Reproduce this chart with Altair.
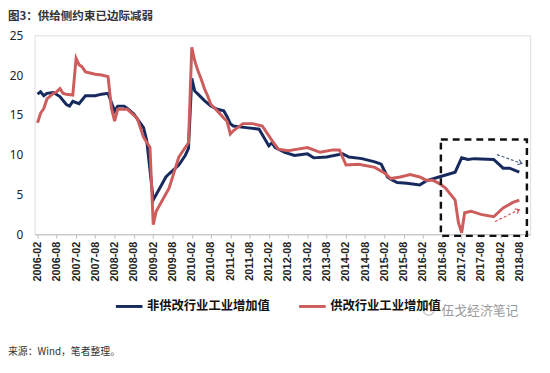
import altair as alt
import pandas as pd

TITLE = ["图3：供给侧约束已边际减弱"]
SOURCE = ["来源：Wind，笔者整理。"]
WATERMARK = ["伍戈经济笔记"]
SERIES = ["非供改行业工业增加值", "供改行业工业增加值"]

blue_dates = ["2006-02", "2006-03", "2006-04", "2006-05", "2006-07", "2006-09", "2006-11", "2006-12",
              "2007-01", "2007-03", "2007-05", "2007-08", "2007-10", "2007-12", "2008-02", "2008-03",
              "2008-05", "2008-06", "2008-08", "2008-11", "2008-12", "2009-02", "2009-06", "2009-07",
              "2009-10", "2009-12", "2010-01", "2010-02", "2010-03", "2010-04", "2010-06", "2010-08",
              "2010-10", "2010-12", "2011-01", "2011-02", "2011-03", "2011-07", "2011-11", "2012-01",
              "2012-02", "2012-03", "2012-04", "2012-07", "2012-10", "2013-02", "2013-04", "2013-08",
              "2014-01", "2014-03", "2014-07", "2014-11", "2015-01", "2015-03", "2015-04", "2015-06",
              "2015-09", "2016-01", "2016-03", "2016-07", "2016-12", "2017-02", "2017-04", "2017-06",
              "2017-12", "2018-03", "2018-05", "2018-08"]
blue_values = [17.6, 17.9, 17.4, 17.7, 17.8, 17.3, 16.3, 16.1,
               16.7, 16.4, 17.4, 17.4, 17.6, 17.7, 15.5, 16.1,
               16.1, 15.8, 15.1, 13.4, 11.8, 4.3, 7.2, 7.6,
               8.7, 9.9, 10.8, 19.6, 18.0, 17.6, 16.8, 16.1,
               15.7, 15.5, 14.8, 13.9, 13.6, 13.4, 13.2, 11.8,
               11.1, 11.5, 10.9, 10.3, 9.9, 10.1, 9.6, 9.7,
               10.1, 9.7, 9.5, 9.1, 8.8, 7.2, 6.9, 6.5,
               6.4, 6.2, 6.7, 7.2, 7.8, 9.6, 9.4, 9.5,
               9.4, 8.3, 8.3, 7.8]

red_dates = ["2006-02", "2006-03", "2006-04", "2006-05", "2006-07", "2006-08", "2006-09", "2006-10",
             "2006-11", "2007-01", "2007-02", "2007-03", "2007-04", "2007-05", "2007-08", "2007-10",
             "2007-12", "2008-01", "2008-02", "2008-03", "2008-06", "2008-09", "2008-11", "2009-01",
             "2009-02", "2009-03", "2009-07", "2009-10", "2009-12", "2010-01", "2010-02", "2010-03",
             "2010-04", "2010-05", "2010-06", "2010-07", "2010-08", "2010-10", "2010-12", "2011-01",
             "2011-02", "2011-03", "2011-06", "2011-09", "2011-12", "2012-03", "2012-05", "2012-08",
             "2012-11", "2013-02", "2013-06", "2013-10", "2013-12", "2014-02", "2014-06", "2014-11",
             "2015-02", "2015-04", "2015-07", "2015-10", "2016-01", "2016-03", "2016-05", "2016-07",
             "2016-09", "2016-12", "2017-01", "2017-02", "2017-03", "2017-05", "2017-08", "2017-12",
             "2018-03", "2018-06", "2018-08"]
red_values = [14.0, 15.2, 15.8, 17.0, 17.7, 17.9, 18.3, 17.7,
              17.6, 17.5, 22.1, 21.3, 21.0, 20.4, 20.1, 20.0,
              19.8, 15.9, 14.2, 15.7, 15.7, 14.6, 12.2, 10.9,
              1.2, 2.9, 5.8, 9.7, 10.9, 11.5, 23.5, 21.8,
              20.5, 19.5, 18.3, 17.4, 16.3, 15.5, 14.6, 14.2,
              12.6, 13.0, 13.9, 13.9, 13.6, 11.8, 10.7, 10.5,
              10.7, 10.9, 10.3, 10.6, 10.6, 8.7, 8.8, 8.4,
              7.7, 7.0, 7.2, 7.5, 7.2, 6.8, 6.8, 6.4,
              5.8, 4.3, 1.5, 0.2, 2.7, 2.9, 2.5, 2.2,
              3.3, 4.0, 4.3]

x_tick_labels = ["2006-02", "2006-08", "2007-02", "2007-08", "2008-02", "2008-08", "2009-02",
                 "2009-08", "2010-02", "2010-08", "2011-02", "2011-08", "2012-02", "2012-08",
                 "2013-02", "2013-08", "2014-02", "2014-08", "2015-02", "2015-08", "2016-02",
                 "2016-08", "2017-02", "2017-08", "2018-02", "2018-08"]
y_ticks = [0, 5, 10, 15, 20, 25]

box_dates = ["2016-07-19", "2018-10-12"]
box_values = [11.9, -0.2]

arrow_blue_dates = ["2018-01-01", "2018-08-25"]
arrow_blue_values = [10.0, 8.9]
arrow_red_dates = ["2017-12-13", "2018-08-01"]
arrow_red_values = [1.6, 3.1]

BLUE = "#172A5E"
RED = "#CD5D5C"


def ms(s):
    return int(pd.Timestamp(s).value // 10**6)


def iso(s):
    return s + "-01" if len(s) == 7 else s


lines_df = pd.DataFrame({
    "date": [iso(d) for d in blue_dates + red_dates],
    "value": blue_values + red_values,
    "series": [SERIES[0]] * len(blue_dates) + [SERIES[1]] * len(red_dates),
})

tick_values = [ms(iso(s)) for s in x_tick_labels]

x_scale = alt.Scale(type="utc", domain=[ms("2006-01-04"), ms("2018-11-12")])
y_scale = alt.Scale(domain=[0, 25], nice=False)

x_axis = alt.Axis(values=tick_values, tickCount=40, format="%Y-%m", labelAngle=-90,
                  labelAlign="right", labelBaseline="middle", labelFont="Liberation Sans",
                  labelFontWeight="bold", labelFontSize=11, labelColor="#222", labelPadding=3,
                  tickSize=4, tickColor="#bfbfbf", domainColor="#bfbfbf", grid=False, title=None,
                  labelOverlap=False, labelSeparation=0)
y_axis = alt.Axis(values=y_ticks, domain=False, ticks=False, grid=False, title=None,
                  labelFont="Noto Sans", labelFontSize=12, labelColor="#222", labelPadding=12)

lines = alt.Chart(lines_df).mark_line(strokeWidth=3).encode(
    x=alt.X("date:T", scale=x_scale, axis=x_axis),
    y=alt.Y("value:Q", scale=y_scale, axis=y_axis),
    color=alt.Color("series:N", scale=alt.Scale(domain=SERIES, range=[BLUE, RED]),
                    legend=alt.Legend(orient="none", legendX=81, legendY=260, direction="horizontal",
                                      title=None, symbolType="stroke", symbolStrokeWidth=3,
                                      symbolSize=729, labelFont="Noto Sans CJK SC",
                                      labelFontWeight="bold", labelFontSize=12.5, labelColor="#111",
                                      columnPadding=22, labelOffset=3, labelLimit=300)),
)

box_df = pd.DataFrame({"x": [box_dates[0]], "x2": [box_dates[1]],
                       "y": [box_values[0]], "y2": [box_values[1]]})
box = alt.Chart(box_df).mark_rect(fillOpacity=0, stroke="#111", strokeWidth=2.5,
                                  strokeDash=[7, 5]).encode(
    x=alt.X("x:T", scale=x_scale), x2="x2:T", y="y:Q", y2="y2:Q")


def arrow(dates, values, color, angle):
    d = pd.DataFrame({"x": [dates[0]], "x2": [dates[1]], "y": [values[0]], "y2": [values[1]]})
    shaft = alt.Chart(d).mark_rule(color=color, strokeWidth=1.2, strokeDash=[3, 2]).encode(
        x=alt.X("x:T", scale=x_scale), x2="x2:T", y="y:Q", y2="y2:Q")
    head = alt.Chart(d).mark_point(shape="M-1,-0.7L0,0L-1,0.7", filled=False, color=color,
                                   strokeWidth=1.2, size=60, angle=angle, opacity=1).encode(
        x=alt.X("x2:T", scale=x_scale), y="y2:Q")
    return shaft + head


arrow_b = arrow(arrow_blue_dates, arrow_blue_values, "#4a5a80", 19)
arrow_r = arrow(arrow_red_dates, arrow_red_values, "#CD5D5C", 334)

title = alt.Chart(pd.DataFrame({"t": TITLE})).mark_text(
    align="left", baseline="middle", font="Noto Sans CJK SC", fontSize=11.7, fontWeight="bold",
    color="#333").encode(text="t:N", x=alt.value(-27), y=alt.value(-19))
source = alt.Chart(pd.DataFrame({"t": SOURCE})).mark_text(
    align="left", baseline="middle", font="Noto Sans CJK SC", fontSize=10,
    color="#333").encode(text="t:N", x=alt.value(-27), y=alt.value(322))
wm_icon = alt.Chart(pd.DataFrame({"t": WATERMARK})).mark_point(
    shape="circle", filled=False, color="#b5b5b5", strokeWidth=1.5, size=110).encode(
    x=alt.value(400), y=alt.value(279))
wm = alt.Chart(pd.DataFrame({"t": WATERMARK})).mark_text(
    align="left", baseline="middle", font="Noto Sans CJK SC", fontSize=13,
    color="#9a9a9a").encode(text="t:N", x=alt.value(413), y=alt.value(280))

chart = alt.layer(lines, box, arrow_b, arrow_r, title, source, wm_icon, wm).properties(
    width=503, height=202,
    autosize=alt.AutoSizeParams(type="none"),
    padding={"left": 27, "top": 25, "right": 12, "bottom": 130},
).configure_view(stroke=None).configure(background="white")

chart.save("out.html", embed_options={"renderer": "svg", "actions": False})
